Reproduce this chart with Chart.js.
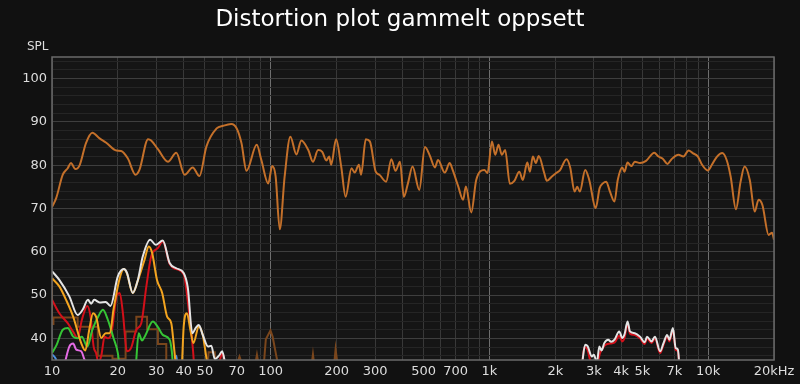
<!DOCTYPE html>
<html>
<head>
<meta charset="utf-8">
<script src="https://cdn.jsdelivr.net/npm/chart.js@4.4.1/dist/chart.umd.min.js"></script>
<style>
	html, body { margin: 0; padding: 0; background: #111111; }
	#wrap { width: 800px; height: 384px; }
</style>
</head>
<body>
<div id="wrap"><canvas id="chart" width="800" height="384"></canvas></div>
<script>
// values (Hz / dB SPL)
const fundFreq = [10, 10.45, 11.2, 11.8, 12.2, 12.8, 13.4, 14.3, 15.3, 16.5, 17.7, 19.7, 20.7, 22.2, 24.1, 25.1, 27.5, 28.4, 30.5, 33.9, 37, 40.4, 44, 47.2, 50.8, 56.6, 60.6, 66, 69.9, 73.5, 77.5, 86.3, 90.6, 97.4, 101.6, 105.3, 110, 115.8, 123, 131, 138, 148.5, 156, 164.6, 172, 179.6, 185, 189, 199, 210, 220, 234, 242, 253, 259, 272, 284, 302, 314, 337, 356, 372, 390, 406, 424, 445, 478, 507, 534, 563, 582, 625, 658, 677, 720, 758, 780, 826, 870, 948, 980, 1027, 1063, 1100, 1140, 1180, 1240, 1300, 1370, 1420, 1490, 1530, 1580, 1630, 1680, 1780, 1830, 1930, 2020, 2100, 2250, 2340, 2450, 2520, 2590, 2740, 2860, 3060, 3190, 3300, 3420, 3550, 3730, 3860, 4050, 4140, 4280, 4450, 4620, 4880, 5200, 5670, 5930, 6200, 6520, 6800, 7320, 7700, 8140, 8500, 8980, 9380, 9960, 10400, 10980, 11600, 12150, 12670, 13400, 14070, 14680, 15500, 16320, 17000, 17700, 18900, 19600, 20000];
const fundSpl = [70.3, 72.4, 77.8, 79.3, 80.5, 79.1, 80.1, 85.1, 87.5, 86.2, 85.2, 83.4, 83.3, 81.6, 77.8, 78.9, 86.0, 85.7, 83.7, 80.8, 82.9, 77.8, 79.5, 77.5, 84.3, 88.5, 89.1, 89.5, 88.5, 85.1, 78.7, 84.7, 81.2, 75.8, 79.8, 77.4, 65.2, 77.4, 86.6, 82.5, 85.7, 83.5, 80.8, 83.5, 83.1, 81.1, 82, 80.1, 86, 79.7, 72.7, 79.3, 78.3, 80.1, 77.8, 86, 85.5, 78.5, 77.8, 76.2, 81.4, 78.7, 80.8, 72.7, 75.8, 79.7, 74.3, 84.2, 82.2, 79.5, 81.2, 78.3, 80.5, 79.1, 75.1, 72, 75.1, 69.1, 76.6, 78.9, 78.2, 85.5, 82.4, 84.7, 82.4, 83.5, 75.7, 76.4, 78.5, 76.6, 80.6, 78.5, 82, 80.5, 82.1, 78.2, 76.4, 77.4, 78.2, 78.8, 81.4, 79.5, 73.9, 75, 73.9, 78.9, 76.6, 70.1, 74.7, 75.8, 76.2, 74, 71.6, 76.6, 79.5, 78.5, 80.6, 79.8, 80.8, 80.5, 81, 82.9, 82, 81.5, 80.3, 81.4, 82.4, 82, 83.4, 82.8, 82, 80.1, 78.8, 80.1, 82, 82.8, 81.2, 77.4, 69.8, 76.2, 79.7, 76.6, 69.3, 72, 70.8, 63.9, 64.4, 62.8];

const thdFreq = [10, 10.8, 12.0, 13.1, 13.8, 14.6, 15.1, 15.6, 16.5, 17.6, 18.5, 20, 21.3, 22.0, 23.4, 24.7, 26.0, 28.1, 29.8, 32.1, 34.5, 37, 40, 41.8, 43.8, 45.5, 46.9, 48.9, 51.7, 53.5, 55.5, 58, 60, 62, 100, 2650, 2740, 2810, 2940, 3000, 3100, 3180, 3260, 3350, 3490, 3600, 3730, 3920, 4050, 4150, 4280, 4390, 4620, 4880, 5130, 5250, 5510, 5710, 6030, 6250, 6490, 6650, 6900, 7100, 7270, 7380];
const thdSpl = [55.5, 53.5, 49.7, 45.4, 46.6, 48.9, 48, 48.9, 48.3, 48.4, 47.5, 54.3, 56, 55.2, 50.5, 53.5, 58.9, 62.8, 61.6, 62.6, 57.4, 56.2, 55.1, 51.6, 41.2, 42.5, 43.1, 40.8, 38.1, 38.3, 35.2, 36, 37, 34, null, 34, 38.5, 38.2, 35.8, 36.2, 34.5, 38.1, 37.2, 38.9, 39.7, 39.2, 39.7, 41.6, 40.1, 41, 43.9, 41.6, 41.2, 40.4, 39.1, 40.4, 39.3, 40.4, 37, 38.9, 40.8, 39.7, 42.4, 37.8, 37.4, 34];

const h2Freq = [10, 10.8, 11.8, 12.5, 13.1, 13.7, 14.5, 15, 15.5, 15.9, 16.3, 16.8, 17.4, 18, 18.7, 19.8, 20.4, 21.1, 22, 23, 24.3, 25.6, 27, 28.4, 30.5, 32.1, 34.5, 37, 40, 42.2, 44.1, 44.6, 50, 58, 60, 62, 1000, 2650, 2720, 2800, 2900, 3000, 3120, 3200, 3300, 3420, 3550, 3730, 3920, 4050, 4150, 4280, 4390, 4620, 4880, 5130, 5250, 5510, 5710, 6030, 6250, 6490, 6650, 6900, 7100, 7270, 7380];
const h2Spl = [48.9, 45.8, 43.5, 41.5, 40.1, 44.3, 47.5, 45, 38.1, 36.6, 34.5, 36, 40.4, 40, 41.2, 50, 50.5, 45.8, 37, 37.8, 42, 43.5, 52, 58.9, 60.9, 62.4, 57.2, 56, 54.8, 46.6, 37.4, 34, null, 34, 36.5, 34, null, 34, 38, 37.5, 34.5, null, 34, 36.5, 37.8, 38.6, 38.8, 39, 40.6, 39.3, 40.2, 43.4, 41.1, 40.8, 40, 38.7, 40, 38.9, 40, 36.6, 38.5, 40.4, 39.3, 42, 37.4, 37, 34];

const h3Freq = [10, 10.8, 11.6, 12.5, 13.6, 14.2, 14.8, 15.4, 15.9, 16.8, 17.6, 18.4, 19.1, 20.4, 21.3, 22, 23.4, 24.7, 26.5, 27.7, 28.7, 30.2, 31.9, 33.6, 35.1, 36.1, 36.8, 38, 39.3, 40, 41.4, 42.9, 44.3, 46.9, 48.9, 51, 51.5];
const h3Spl = [53.9, 52, 48.9, 45, 38.9, 37.2, 42, 45.8, 45, 40.1, 41.2, 41.2, 46.6, 53.9, 56, 55, 50.5, 53.4, 58.2, 61.2, 59.7, 53.5, 50.5, 45, 43.5, 38.1, 34, null, 34, 42.7, 45.8, 42, 38.9, 42.7, 40.8, 35, 34];

const h4Freq = [10, 10.5, 11.2, 11.8, 12.5, 13.1, 13.7, 14.5, 15.3, 16.4, 17.1, 18, 19.1, 20, 20.3, 22, 24.2, 24.9, 25.8, 26.6, 28.9, 30.5, 32.1, 34.5, 35.3, 35.7];
const h4Spl = [36.6, 38.5, 42, 42.4, 40.4, 40, 40.4, 38.1, 42, 45.4, 46.6, 44.3, 40.1, 36.6, 34, null, 34, 41.2, 39.5, 40.5, 43.9, 42.6, 40.8, 39.7, 37, 34];

const h5Freq = [11.4, 12, 12.5, 12.9, 13.6, 14.1, 14.4];
const h5Spl = [34, 38.1, 38.8, 37.4, 37, 35, 34];

const h6Freq = [10, 10.4, 10.6, 20, 36.6, 37, 37.4];
const h6Spl = [36.3, 35.3, 34, null, 34, 36, 34];

// stepped band part of the upper harmonics
const hRestFreq = [10, 10.15, 13.1, 16.2, 18.9, 21.7, 24.3, 27.2, 30.5, 33.3, 35.7];
const hRestSpl = [54, 43.3, 44.8, 42.7, 36, 35.3, 41.6, 45, 42.1, 38.7, 34];
const hBitsFreq = [51.5, 52, 55.5, 56, 60, 70, 72, 74, 80, 85, 86.5, 88, 90, 93, 95, 99.7, 102, 106, 108, 130, 154, 156, 158, 180, 195, 198, 202];
const hBitsSpl = [34, 36.8, 36.8, 34, null, 34, 35.8, 34, null, 34, 36.2, 34, null, 34, 39.8, 41.8, 40.4, 36, 34, null, 34, 36.3, 34, null, 34, 37.5, 34];

const xTickValues = [10, 20, 30, 40, 50, 60, 70, 80, 90, 100, 200, 300, 400, 500, 600, 700, 800, 900, 1000, 2000, 3000, 4000, 5000, 6000, 7000, 8000, 9000, 10000, 20000];
const xLabelValues = [10, 20, 30, 40, 50, 70, 100, 200, 300, 500, 700, 1000, 2000, 3000, 4000, 5000, 7000, 10000, 20000];
const xLabelText = ['10', '20', '30', '40', '50', '70', '100', '200', '300', '500', '700', '1k', '2k', '3k', '4k', '5k', '7k', '10k', '20kHz'];
const yLabelValues = [40, 50, 60, 70, 80, 90, 100];

function pts(freqs, vals) {
	return freqs.map(function(f, i) { return {x: f, y: vals[i]}; });
}

function series(freqs, vals, color, extra) {
	var ds = {
		data: pts(freqs, vals),
		borderColor: color,
		borderWidth: 2,
		pointRadius: 0,
		fill: false,
		spanGaps: false,
		cubicInterpolationMode: 'monotone',
		clip: 0
	};
	return Object.assign(ds, extra || {});
}

// plot area fill, frame, title and axis caption
const decor = {
	id: 'decor',
	beforeDraw: function(chart) {
		var c = chart.ctx, a = chart.chartArea;
		c.save();
		c.fillStyle = '#111111';
		c.fillRect(0, 0, chart.width, chart.height);
		c.fillStyle = '#151515';
		c.fillRect(a.left, a.top, a.right - a.left, a.bottom - a.top);
		c.restore();
	},
	afterDraw: function(chart) {
		var c = chart.ctx, a = chart.chartArea;
		c.save();
		c.strokeStyle = '#6a6a6a';
		c.lineWidth = 1.5;
		c.strokeRect(a.left, a.top, a.right - a.left, a.bottom - a.top);
		c.fillStyle = '#ffffff';
		c.font = '23px "DejaVu Sans"';
		c.textAlign = 'center';
		c.textBaseline = 'middle';
		c.fillText('Distortion plot gammelt oppsett', chart.width / 2, 20);
		c.fillStyle = '#dddddd';
		c.font = '12px "DejaVu Sans"';
		c.textAlign = 'left';
		c.fillText('SPL', 27, 47);
		c.restore();
	}
};

var ctx = document.getElementById('chart');
new Chart(ctx, {
	type: 'line',
	data: {
		datasets: [
			series(thdFreq, thdSpl, '#e4e4e4'),
			series(h3Freq, h3Spl, '#f3a41f'),
			series(h4Freq, h4Spl, '#35c435'),
			series(h2Freq, h2Spl, '#d3101a'),
			series(h5Freq, h5Spl, '#e46be4'),
			series(h6Freq, h6Spl, '#4d8fe0'),
			series(hRestFreq, hRestSpl, '#7a461c', {stepped: 'after'}),
			series(hBitsFreq, hBitsSpl, '#7a461c', {cubicInterpolationMode: 'default', tension: 0}),
			series(fundFreq, fundSpl, '#c4702a')
		]
	},
	options: {
		responsive: false,
		animation: false,
		layout: { padding: { left: 0, right: 26, top: 57, bottom: 0 } },
		plugins: { legend: { display: false }, tooltip: { enabled: false }, title: { display: false } },
		scales: {
			x: {
				type: 'logarithmic',
				min: 10,
				max: 20000,
				afterBuildTicks: function(scale) {
					scale.ticks = xTickValues.map(function(v) { return {value: v}; });
				},
				afterFit: function(scale) { scale.height = 24; },
				grid: {
					drawTicks: false,
					color: function(c) {
						var v = c.tick ? c.tick.value : 0;
						return (v == 100 || v == 1000 || v == 10000) ? '#6e6e6e' : '#383838';
					},
					lineWidth: 1
				},
				border: { display: false },
				ticks: {
					autoSkip: false,
					maxRotation: 0,
					padding: 4,
					color: '#dddddd',
					font: { family: 'DejaVu Sans', size: 13 },
					callback: function(value) {
						var i = xLabelValues.indexOf(value);
						return i >= 0 ? xLabelText[i] : '';
					}
				}
			},
			y: {
				type: 'linear',
				min: 35,
				max: 105,
				afterBuildTicks: function(scale) {
					var t = [];
					for (var v = 36; v <= 104; v += 2) t.push({value: v});
					scale.ticks = t;
				},
				afterFit: function(scale) { scale.width = 52; },
				grid: {
					drawTicks: false,
					color: function(c) {
						var v = c.tick ? c.tick.value : 0;
						return v % 10 == 0 ? '#3e3e3e' : '#252525';
					}
				},
				border: { display: false },
				ticks: {
					autoSkip: false,
					padding: 5,
					color: '#dddddd',
					font: { family: 'DejaVu Sans', size: 13 },
					callback: function(value) {
						return yLabelValues.indexOf(value) >= 0 ? String(value) : '';
					}
				}
			}
		}
	},
	plugins: [decor]
});
</script>
</body>
</html>
